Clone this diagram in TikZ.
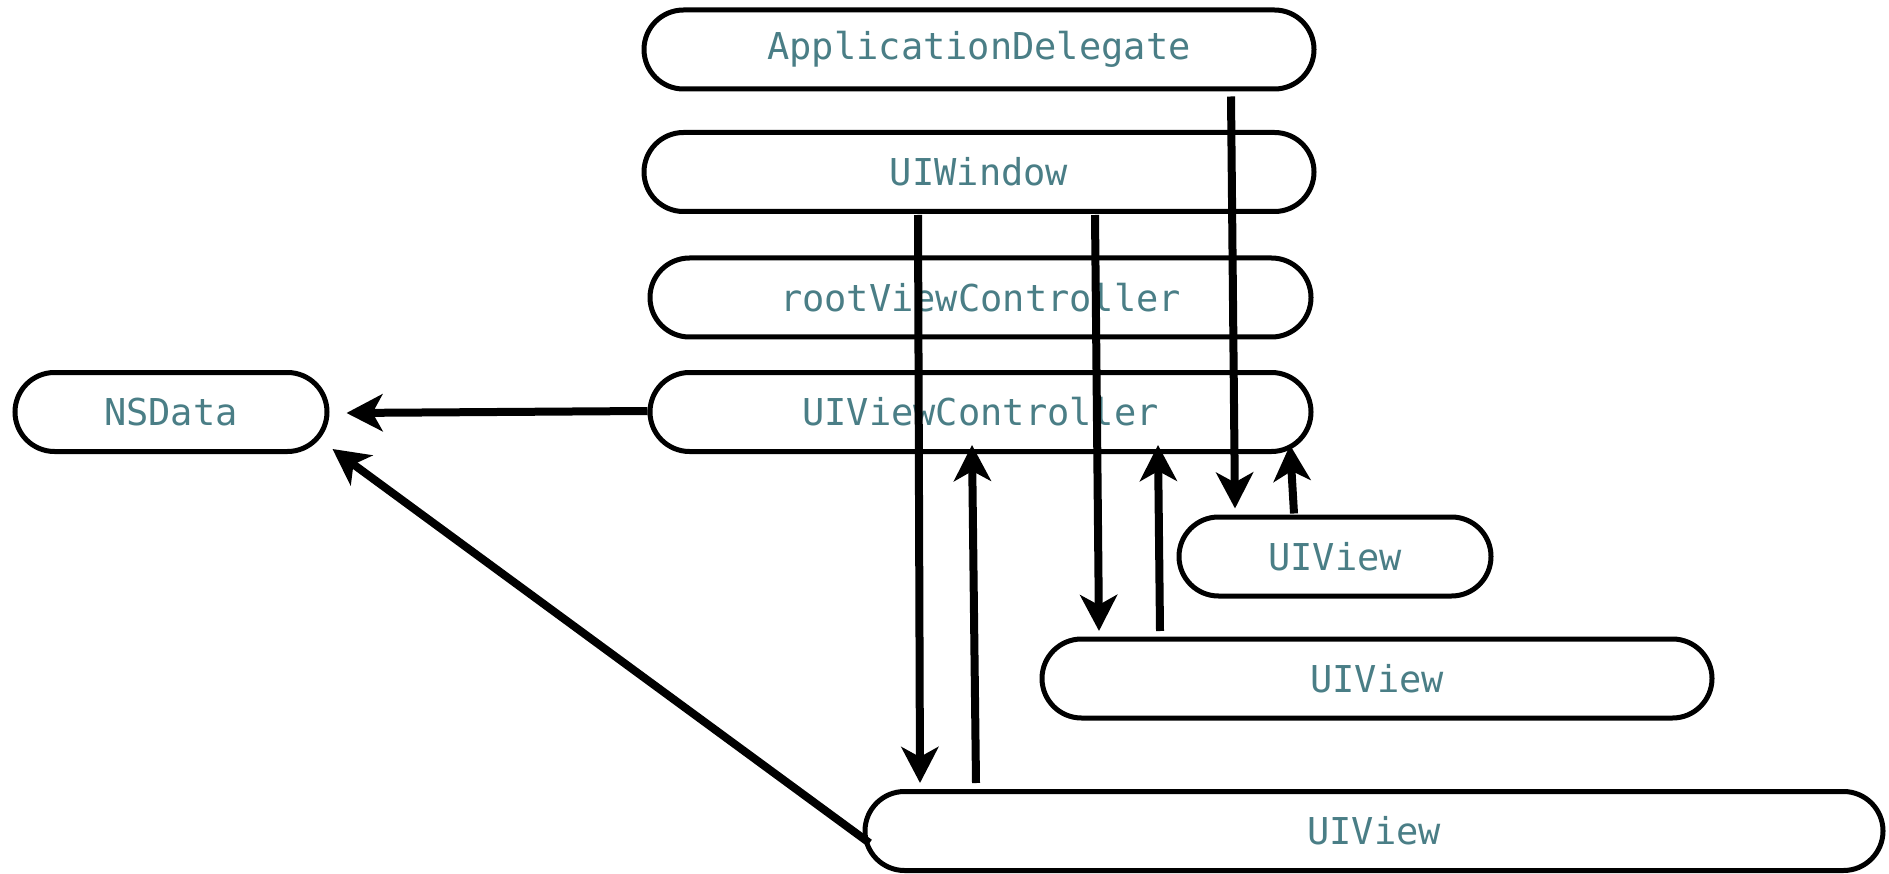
\documentclass[tikz,border=0pt]{standalone}
\usepackage{fontspec}
\newfontfamily\codefont{DejaVu Sans Mono}
\usetikzlibrary{arrows.meta,shapes.misc}
\definecolor{labelteal}{RGB}{74,126,134}
\tikzset{
  objbox/.style={rounded rectangle, draw=black, line width=5pt, fill=white,
    minimum height=79pt, inner sep=0pt, text=labelteal,
    font=\codefont\fontsize{37}{37}\selectfont},
  link/.style={line width=8pt, -{Stealth[length=36pt,width=37pt,inset=10pt]}},
}
\begin{document}
\begin{tikzpicture}[x=1pt,y=-1pt]
\useasboundingbox (0,0) rectangle (1889,874);
% object boxes
\node[objbox, minimum width=670pt]  (ad)  at (979,49.5)   {ApplicationDelegate};
\node[objbox, minimum width=670pt]  (win) at (979,172)    {UIWindow};
\node[objbox, minimum width=661pt]  (rvc) at (980.5,297.5){rootViewController};
\node[objbox, minimum width=661pt]  (vc)  at (980.5,412)  {UIViewController};
\node[objbox, minimum width=312pt]  (ns)  at (171,412)    {NSData};
\node[objbox, minimum width=312pt]  (v1)  at (1335,556.5) {UIView};
\node[objbox, minimum width=670pt]  (v2)  at (1377,678.5) {UIView};
\node[objbox, minimum width=1018pt] (v3)  at (1374,831)   {UIView};
% references between objects
\draw[link] ([xshift=252pt,yshift=-5pt]ad.south) -- ([xshift=-100pt,yshift=6pt]v1.north);
\draw[link] ([xshift=-41pt,yshift=1pt]v1.north) -- ([xshift=309.5pt,yshift=9pt]vc.south);
\draw[link] ([xshift=-61pt,yshift=-1pt]win.south) -- ([xshift=-454pt,yshift=6pt]v3.north);
\draw[link] ([xshift=-398pt,yshift=6pt]v3.north) -- ([xshift=-8.5pt,yshift=9pt]vc.south);
\draw[link] ([xshift=116pt,yshift=-1pt]win.south) -- ([xshift=-278pt,yshift=5.5pt]v2.north);
\draw[link] ([xshift=-217pt,yshift=5.5pt]v2.north) -- ([xshift=177.5pt,yshift=9pt]vc.south);
\draw[link] ([yshift=1pt]vc.west) -- ([xshift=17pt,yshift=-1pt]ns.east);
\draw[link] ([xshift=7pt,yshift=-12pt]v3.west) -- ([xshift=3pt,yshift=-37pt]ns.east);
\end{tikzpicture}
\end{document}
